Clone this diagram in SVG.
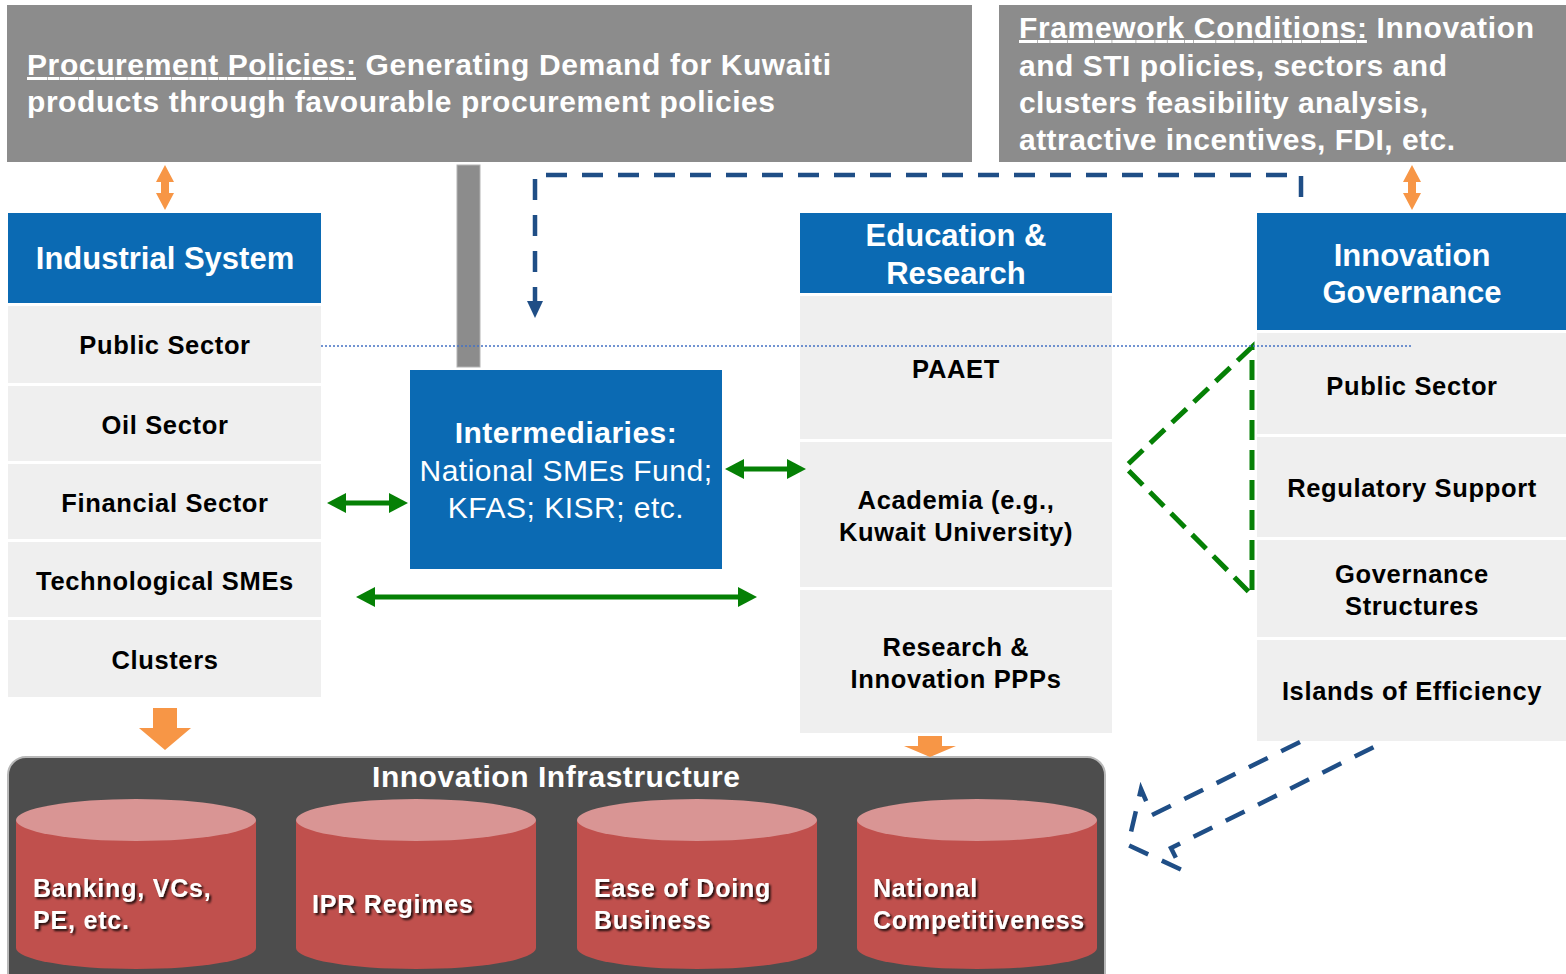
<svg xmlns="http://www.w3.org/2000/svg" width="1566" height="974" viewBox="0 0 1566 974">
  <defs>
    <style>
      .banner { fill: #8c8c8c; }
      .bannerText { font-family: "Liberation Sans", Arial, sans-serif; font-weight: bold; font-size: 30px; fill: #ffffff; }
      .ul { text-decoration: underline; }
      .head { fill: #0b6ab3; }
      .headText { font-family: "Liberation Sans", Arial, sans-serif; font-weight: bold; font-size: 31px; fill: #ffffff; text-anchor: middle; }
      .cell { fill: #efefef; }
      .cellText { font-family: "Liberation Sans", Arial, sans-serif; font-weight: bold; font-size: 25.5px; letter-spacing: 0.65px; fill: #000000; text-anchor: middle; }
      .interText { font-family: "Liberation Sans", Arial, sans-serif; font-size: 30px; letter-spacing: 0.5px; fill: #ffffff; text-anchor: middle; }
      .cylTop { fill: #d99594; }
      .cylBody { fill: #c0504d; }
      .cylText { font-family: "Liberation Sans", Arial, sans-serif; font-weight: bold; font-size: 25px; letter-spacing: 0.8px; fill: #ffffff; filter: url(#tshadow); }
      .orange { fill: #f79646; }
      .green { stroke: #058005; stroke-width: 5; fill: none; }
      .greenDash { stroke: #058005; stroke-width: 5; fill: none; stroke-dasharray: 20 10; stroke-linejoin: miter; }
      .blueDash { stroke: #1f4e86; stroke-width: 4.5; fill: none; stroke-dasharray: 21 15; }
    </style>
    <marker id="greenHead" markerUnits="userSpaceOnUse" markerWidth="19" markerHeight="20" refX="0" refY="10" orient="auto-start-reverse" viewBox="0 0 19 20">
      <path d="M0,0 L19,10 L0,20 Z" fill="#058005"/>
    </marker>
    <filter id="tshadow" x="-10%" y="-30%" width="130%" height="180%">
      <feDropShadow dx="2" dy="2" stdDeviation="0.8" flood-color="#000000" flood-opacity="0.85"/>
    </filter>
  </defs>

  <rect width="1566" height="974" fill="#ffffff"/>

  <!-- Procurement policies banner -->
  <g id="procurement">
    <rect class="banner" x="7" y="5" width="965" height="157"/>
    <text class="bannerText" x="27" y="75" textLength="804" lengthAdjust="spacing"><tspan class="ul">Procurement Policies:</tspan> Generating Demand for Kuwaiti</text>
    <text class="bannerText" x="27" y="112" textLength="748" lengthAdjust="spacing">products through favourable procurement policies</text>
  </g>

  <!-- Framework conditions banner -->
  <g id="framework">
    <rect class="banner" x="999" y="5" width="567" height="157"/>
    <text class="bannerText" x="1019" y="38" textLength="515" lengthAdjust="spacing"><tspan class="ul">Framework Conditions:</tspan> Innovation</text>
    <text class="bannerText" x="1019" y="76" textLength="428" lengthAdjust="spacing">and STI policies, sectors and</text>
    <text class="bannerText" x="1019" y="113" textLength="409" lengthAdjust="spacing">clusters feasibility analysis,</text>
    <text class="bannerText" x="1019" y="150" textLength="436" lengthAdjust="spacing">attractive incentives, FDI, etc.</text>
  </g>

  <!-- Vertical link bar from procurement banner -->
  <g id="procurement-bar">
    <rect x="457" y="165" width="23" height="202" fill="#8c8c8c" stroke="#b3b3b3" stroke-width="1"/>
  </g>

  <!-- Innovation infrastructure container with cylinders -->
  <g id="infrastructure">
    <rect x="8" y="757" width="1097" height="240" rx="18" fill="#4d4d4d" stroke="#b8b8b8" stroke-width="2"/>
    <text x="556" y="787" font-family="Liberation Sans, Arial, sans-serif" font-weight="bold" font-size="30" fill="#ffffff" text-anchor="middle" textLength="368" lengthAdjust="spacing">Innovation Infrastructure</text>
  </g>
  <g id="cyl-banking">
    <path class="cylBody" d="M16,820 V948 A120,21 0 0 0 256,948 V820 Z"/>
    <ellipse class="cylTop" cx="136" cy="820" rx="120" ry="21"/>
    <text class="cylText" x="33" y="897">Banking, VCs,</text>
    <text class="cylText" x="33" y="929">PE, etc.</text>
  </g>
  <g id="cyl-ipr">
    <path class="cylBody" d="M296,820 V948 A120,21 0 0 0 536,948 V820 Z"/>
    <ellipse class="cylTop" cx="416" cy="820" rx="120" ry="21"/>
    <text class="cylText" x="312" y="913">IPR Regimes</text>
  </g>
  <g id="cyl-business">
    <path class="cylBody" d="M577,820 V948 A120,21 0 0 0 817,948 V820 Z"/>
    <ellipse class="cylTop" cx="697" cy="820" rx="120" ry="21"/>
    <text class="cylText" x="594" y="897">Ease of Doing</text>
    <text class="cylText" x="594" y="929">Business</text>
  </g>
  <g id="cyl-competitiveness">
    <path class="cylBody" d="M857,820 V948 A120,21 0 0 0 1097,948 V820 Z"/>
    <ellipse class="cylTop" cx="977" cy="820" rx="120" ry="21"/>
    <text class="cylText" x="873" y="897">National</text>
    <text class="cylText" x="873" y="929">Competitiveness</text>
  </g>

  <!-- Industrial system column -->
  <g id="industrial-system">
    <rect class="head" x="8" y="213" width="313" height="90"/>
    <text class="headText" x="165" y="269">Industrial System</text>
    <rect class="cell" x="8" y="306" width="313" height="77"/>
    <text class="cellText" x="165" y="354">Public Sector</text>
    <rect class="cell" x="8" y="386" width="313" height="75"/>
    <text class="cellText" x="165" y="434">Oil Sector</text>
    <rect class="cell" x="8" y="464" width="313" height="75"/>
    <text class="cellText" x="165" y="512">Financial Sector</text>
    <rect class="cell" x="8" y="542" width="313" height="75"/>
    <text class="cellText" x="165" y="590">Technological SMEs</text>
    <rect class="cell" x="8" y="620" width="313" height="77"/>
    <text class="cellText" x="165" y="669">Clusters</text>
  </g>

  <!-- Intermediaries -->
  <g id="intermediaries">
    <rect class="head" x="410" y="370" width="312" height="199"/>
    <text class="interText" x="566" y="443" font-weight="bold">Intermediaries:</text>
    <text class="interText" x="566" y="481">National SMEs Fund;</text>
    <text class="interText" x="566" y="518">KFAS; KISR; etc.</text>
  </g>

  <!-- Education and research column -->
  <g id="education-research">
    <rect class="head" x="800" y="213" width="312" height="80"/>
    <text class="headText" x="956" y="246">Education &amp;</text>
    <text class="headText" x="956" y="284">Research</text>
    <rect class="cell" x="800" y="296" width="312" height="143"/>
    <text class="cellText" x="956" y="378">PAAET</text>
    <rect class="cell" x="800" y="442" width="312" height="145"/>
    <text class="cellText" x="956" y="509">Academia (e.g.,</text>
    <text class="cellText" x="956" y="541">Kuwait University)</text>
    <rect class="cell" x="800" y="590" width="312" height="143"/>
    <text class="cellText" x="956" y="656">Research &amp;</text>
    <text class="cellText" x="956" y="688">Innovation PPPs</text>
  </g>

  <!-- Innovation governance column -->
  <g id="innovation-governance">
    <rect class="head" x="1257" y="213" width="309" height="117"/>
    <text class="headText" x="1412" y="266">Innovation</text>
    <text class="headText" x="1412" y="303">Governance</text>
    <rect class="cell" x="1257" y="333" width="309" height="101"/>
    <text class="cellText" x="1412" y="395">Public Sector</text>
    <rect class="cell" x="1257" y="437" width="309" height="100"/>
    <text class="cellText" x="1412" y="497">Regulatory Support</text>
    <rect class="cell" x="1257" y="540" width="309" height="97"/>
    <text class="cellText" x="1412" y="583">Governance</text>
    <text class="cellText" x="1412" y="615">Structures</text>
    <rect class="cell" x="1257" y="640" width="309" height="101"/>
    <text class="cellText" x="1412" y="700">Islands of Efficiency</text>
  </g>

  <!-- Connectors -->
  <g id="connectors">
    <!-- orange double arrows under the banners -->
    <polygon class="orange" points="165,165 174,182 169,182 169,193 174,193 165,210 156,193 161,193 161,182 156,182"/>
    <polygon class="orange" points="1412,165 1421,182 1416,182 1416,193 1421,193 1412,210 1403,193 1408,193 1408,182 1403,182"/>
    <!-- orange block arrows into the infrastructure -->
    <polygon class="orange" points="153,708 177,708 177,728 191,728 165,750 139,728 153,728"/>
    <polygon class="orange" points="918,736 942,736 942,746 956,746 930,757 904,746 918,746"/>

    <!-- dashed feedback from framework conditions -->
    <path class="blueDash" d="M1301,197 V175 H535 V302"/>
    <polygon points="527,301 543,301 535,318" fill="#1f4e86"/>

    <!-- hollow dashed arrow from governance towards infrastructure -->
    <path class="blueDash" d="M1300,742 L1152,815 L1141,789 L1128,845 L1182,870 L1171,848 L1380,744"/>

    <!-- green links -->
    <path class="green" d="M346,503 H389" marker-start="url(#greenHead)" marker-end="url(#greenHead)"/>
    <path class="green" d="M744,469 H787" marker-start="url(#greenHead)" marker-end="url(#greenHead)"/>
    <path class="green" d="M375,597 H738" marker-start="url(#greenHead)" marker-end="url(#greenHead)"/>
    <path class="greenDash" d="M1252,347 L1125,467 L1252,595 Z"/>

    <!-- dotted guide line -->
    <line x1="321" y1="346" x2="1413" y2="346" stroke="#4472c4" stroke-width="1.5" stroke-dasharray="2 2"/>
  </g>
</svg>
